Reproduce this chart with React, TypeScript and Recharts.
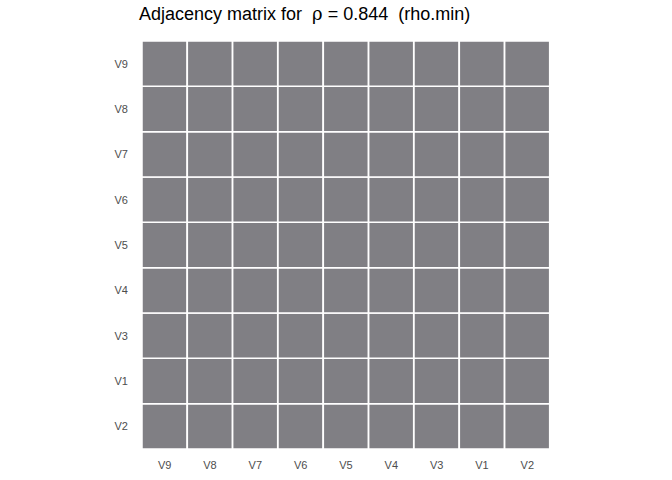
import { BarChart, Bar, XAxis, YAxis } from 'recharts';

// column order along the x axis (left to right)
const colLabels = ['V9', 'V8', 'V7', 'V6', 'V5', 'V4', 'V3', 'V1', 'V2'];
// row order along the y axis (bottom to top)
const rowLabels = ['V2', 'V1', 'V3', 'V4', 'V5', 'V6', 'V7', 'V8', 'V9'];
// adjacency values: adjacency[col][row], 1 = connected
const adjacency = [
  [1, 1, 1, 1, 1, 1, 1, 1, 1],
  [1, 1, 1, 1, 1, 1, 1, 1, 1],
  [1, 1, 1, 1, 1, 1, 1, 1, 1],
  [1, 1, 1, 1, 1, 1, 1, 1, 1],
  [1, 1, 1, 1, 1, 1, 1, 1, 1],
  [1, 1, 1, 1, 1, 1, 1, 1, 1],
  [1, 1, 1, 1, 1, 1, 1, 1, 1],
  [1, 1, 1, 1, 1, 1, 1, 1, 1],
  [1, 1, 1, 1, 1, 1, 1, 1, 1],
];

const CELL = '#807f84';
const TICK = { fontSize: 11, fill: '#4d4d4d', fontFamily: 'Liberation Sans, Arial, sans-serif' };

export default function App() {
  const data = colLabels.map((name, c) => {
    const row: Record<string, any> = { name };
    rowLabels.forEach((_, r) => { row['r' + r] = adjacency[c][r]; });
    return row;
  });
  const yTicks = rowLabels.map((_, i) => i + 0.5);

  return (
    <div style={{ position: 'fixed', top: 0, left: 0, width: 672, height: 480, background: '#fff' }}>
      <div style={{
        position: 'absolute', left: 139, top: 3, fontSize: 18, color: '#000',
        fontFamily: 'Liberation Sans, Arial, sans-serif', whiteSpace: 'pre',
      }}>
        {'Adjacency matrix for  '}
        <span style={{ fontFamily: 'DejaVu Serif, serif' }}>ρ</span>
        {' = 0.844  (rho.min)'}
      </div>
      <BarChart
        width={672}
        height={480}
        data={data}
        margin={{ top: 41, right: 122, bottom: 7, left: 102 }}
        barCategoryGap={0}
      >
        <XAxis
          dataKey="name"
          axisLine={false}
          tickLine={false}
          tick={TICK}
          height={24}
          tickMargin={6}
        />
        <YAxis
          type="number"
          domain={[0, 9]}
          ticks={yTicks}
          tickFormatter={(v: number) => rowLabels[Math.floor(v)]}
          axisLine={false}
          tickLine={false}
          tick={TICK}
          width={40}
          tickMargin={8}
        />
        {rowLabels.map((_, r) => (
          <Bar
            key={r}
            dataKey={'r' + r}
            stackId="m"
            fill={CELL}
            stroke="#ffffff"
            strokeWidth={1.5}
            isAnimationActive={false}
          />
        ))}
      </BarChart>
    </div>
  );
}
